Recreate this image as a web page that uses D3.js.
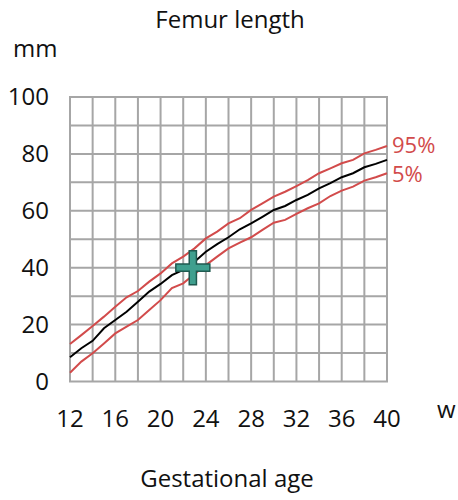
<!DOCTYPE html>
<html>
<head>
<meta charset="utf-8">
<script src="https://cdn.jsdelivr.net/npm/d3@7"></script>
<style>
  html, body { margin: 0; padding: 0; background: #fff; }
  svg { display: block; font-family: "Open Sans", sans-serif; }
</style>
</head>
<body>
<svg id="chart" width="458" height="500"></svg>
<script>
// Data (gestational weeks 12..40, femur length in mm)
const weeks = [12,13,14,15,16,17,18,19,20,21,22,23,24,25,26,27,28,29,30,31,32,33,34,35,36,37,38,39,40];
const median = [8.5,11.7,14.3,18.7,21.6,24.5,28.0,31.6,34.3,37.4,39.2,42.1,45.6,48.3,50.7,53.5,55.6,57.9,60.3,61.7,63.8,65.6,67.9,69.7,71.8,73.2,75.3,76.5,77.9];
const p95 = [13.2,16.3,19.5,22.8,26.3,29.6,31.8,35.1,38.0,41.5,43.9,46.8,50.3,52.7,55.6,57.4,60.3,62.6,65.0,66.7,68.7,70.8,73.2,74.9,76.7,77.9,80.2,81.4,82.8];
const p5 = [3.1,7.0,9.9,13.4,16.9,19.3,21.6,25.1,28.6,32.8,34.5,37.8,40.9,43.9,46.8,48.8,50.7,53.3,55.8,56.8,58.9,60.9,62.6,65.2,67.1,68.5,70.6,71.8,73.2];
const xTicks = [12,16,20,24,28,32,36,40];
const yTicks = [0,20,40,60,80,100];
const measurement = [{week: 22.85, mm: 40}];

(function () {
const svg = d3.select("#chart");
const mLeft = 70, mRight = 387, mTop = 97, mBottom = 381.5;
const x = d3.scaleLinear().domain([12, 40]).range([mLeft, mRight]);
const y = d3.scaleLinear().domain([0, 100]).range([mBottom, mTop]);

const gridColor = "#a6a6a6";
const red = "#d24b4b";

// grid
const grid = svg.append("g");
grid.selectAll("line.v").data(d3.range(12, 41, 2)).enter().append("line")
  .attr("x1", d => x(d)).attr("x2", d => x(d))
  .attr("y1", y(0)).attr("y2", y(100))
  .attr("stroke", gridColor).attr("stroke-width", 2);
grid.selectAll("line.h").data(d3.range(0, 101, 10)).enter().append("line")
  .attr("x1", x(12) - 1).attr("x2", x(40) + 1)
  .attr("y1", d => y(d)).attr("y2", d => y(d))
  .attr("stroke", gridColor).attr("stroke-width", 2);

// lines
const line = d3.line().x((d, i) => x(weeks[i])).y(d => y(d));
svg.append("path").datum(p95).attr("d", line).attr("fill", "none").attr("stroke", red).attr("stroke-width", 2);
svg.append("path").datum(p5).attr("d", line).attr("fill", "none").attr("stroke", red).attr("stroke-width", 2);
svg.append("path").datum(median).attr("d", line).attr("fill", "none").attr("stroke", "#000").attr("stroke-width", 2);

// measurement cross
const arm = 17, th = 3.6;
const plus = `M${-th},${-arm}H${th}V${-th}H${arm}V${th}H${th}V${arm}H${-th}V${th}H${-arm}V${-th}H${-th}Z`;
svg.selectAll("path.m").data(measurement).enter().append("path")
  .attr("transform", d => `translate(${x(d.week)},${y(d.mm)})`)
  .attr("d", plus)
  .attr("fill", "#3f9f8e").attr("stroke", "#1f5a50").attr("stroke-width", 1.5)
  .attr("stroke-linejoin", "miter");

// y tick labels
svg.selectAll("text.yt").data(yTicks).enter().append("text")
  .attr("x", 49).attr("y", d => y(d) + 8)
  .attr("text-anchor", "end").attr("font-size", 24).attr("fill", "#111")
  .text(d => d);

// x tick labels
svg.selectAll("text.xt").data(xTicks).enter().append("text")
  .attr("x", d => x(d)).attr("y", 427)
  .attr("text-anchor", "middle").attr("font-size", 24).attr("fill", "#111")
  .text(d => d);

// titles
svg.append("text").attr("x", 230).attr("y", 28).attr("text-anchor", "middle")
  .attr("font-size", 24).attr("fill", "#111").text("Femur length");
svg.append("text").attr("x", 13).attr("y", 57).attr("font-size", 24).attr("fill", "#111").text("mm");
svg.append("text").attr("x", 437).attr("y", 418).attr("font-size", 24).attr("fill", "#111").text("w");
svg.append("text").attr("x", 227).attr("y", 487).attr("text-anchor", "middle")
  .attr("font-size", 24).attr("fill", "#111").text("Gestational age");

// percentile labels
svg.append("text").attr("x", 392).attr("y", 153).attr("font-size", 22).attr("fill", red).text("95%");
svg.append("text").attr("x", 392).attr("y", 182).attr("font-size", 22).attr("fill", red).text("5%");
})();
</script>
</body>
</html>
